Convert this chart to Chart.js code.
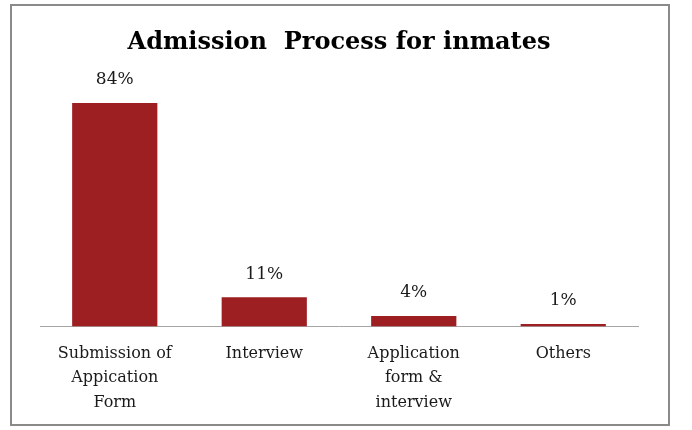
<!DOCTYPE html>
<html>
<head>
<meta charset="utf-8">
<script src="https://cdn.jsdelivr.net/npm/chart.js@4"></script>
<style>
  html, body { margin: 0; padding: 0; background: #fff; }
  #marco {
    position: absolute; left: 10px; top: 4px; width: 656px; height: 418px;
    border: 2px solid #8a8a8a;
  }
  #lienzo { position: absolute; left: 0; top: 0; }
</style>
</head>
<body>
<div id="marco"></div>
<canvas id="lienzo" width="692" height="430"></canvas>
<script>
// datos del grafico
const categorias = [
  ["Submission of", "Appication", "Form"],
  "Interview",
  ["Application", "form &", "interview"],
  "Others"
];
const valores = [84, 11, 4, 1];
const etiquetas = ["84%", "11%", "4%", "1%"];

const fuente = "'DejaVu Serif', Georgia, serif";

// etiquetas encima de las barras
const pluginEtiquetas = {
  id: 'etiquetas',
  afterDatasetsDraw(chart) {
    const ctx = chart.ctx;
    const meta = chart.getDatasetMeta(0);
    ctx.save();
    ctx.font = "17px " + fuente;
    ctx.fillStyle = "#1a1a1a";
    ctx.textAlign = "center";
    ctx.textBaseline = "middle";
    meta.data.forEach((barra, i) => {
      ctx.fillText(etiquetas[i], barra.x, barra.y - 23);
    });
    ctx.restore();
  }
};

const ctx = document.getElementById('lienzo').getContext('2d');
new Chart(ctx, {
  type: 'bar',
  data: {
    labels: categorias,
    datasets: [{
      data: valores,
      backgroundColor: '#9e1f21',
      barPercentage: 0.57,
      categoryPercentage: 1
    }]
  },
  options: {
    responsive: false,
    animation: false,
    layout: { padding: { left: 40, right: 54, top: 0, bottom: 0 } },
    scales: {
      x: {
        grid: { display: false, drawTicks: false },
        border: { display: true, color: '#a6a6a6', width: 1 },
        ticks: {
          color: '#1a1a1a',
          font: { family: fuente, size: 16, lineHeight: 1.53 },
          padding: 15,
          maxRotation: 0,
          autoSkip: false
        }
      },
      y: {
        display: false,
        min: 0,
        max: 90
      }
    },
    plugins: {
      legend: { display: false },
      tooltip: { enabled: false },
      title: {
        display: true,
        text: 'Admission  Process for inmates',
        color: '#000',
        font: { family: fuente, size: 24, weight: 'bold', lineHeight: 1.2 },
        padding: { top: 28.6, bottom: 29.6 }
      }
    }
  },
  plugins: [pluginEtiquetas]
});
</script>
</body>
</html>
